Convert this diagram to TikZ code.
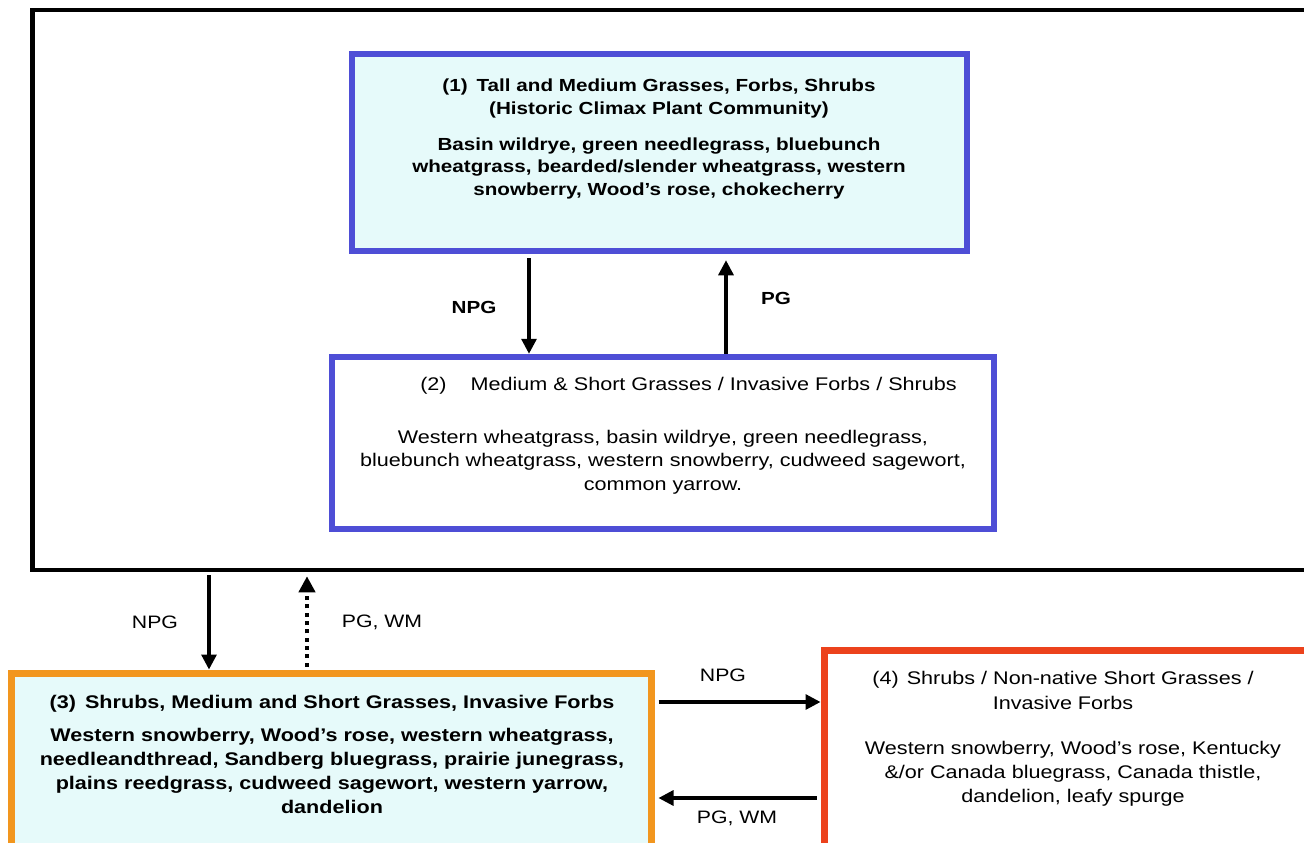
\documentclass[tikz,border=0pt]{standalone}
\usepackage{fontspec}
\setmainfont[FakeStretch=1.18]{Liberation Sans}
\usetikzlibrary{arrows.meta}
\definecolor{bbd}{RGB}{78,78,214}
\definecolor{cyanfill}{RGB}{230,250,250}
\definecolor{orbd}{RGB}{242,150,30}
\definecolor{rdbd}{RGB}{236,66,28}
\begin{document}
\begin{tikzpicture}[x=1pt,y=-1pt,
 box/.style={rectangle, inner sep=0pt},
 txt/.style={align=center, inner sep=0pt, font=\fontsize{18.3}{24}\selectfont},
 btxt/.style={align=center, inner sep=0pt, font=\fontsize{18.3}{24}\selectfont\bfseries},
 arr/.style={line width=3.2pt, -{Triangle[length=15pt,width=15pt]}},
 darr/.style={line width=4pt, dash pattern=on 4pt off 4.3pt, -{Triangle[length=16pt,width=16pt]}},
 lbl/.style={inner sep=0pt, font=\fontsize{18}{22}\selectfont},
 blbl/.style={inner sep=0pt, font=\fontsize{17.5}{22}\selectfont\bfseries}]
\useasboundingbox (0,0) rectangle (1304,843);
\clip (0,0) rectangle (1304,843);
\fill[white] (0,0) rectangle (1304,843);
% outer frame
\node[box, draw=black, line width=4.5pt, minimum width=1287pt, minimum height=560pt] (outer) at (676,290) {};
% boxes
\node[box, draw=bbd, fill=cyanfill, line width=6.5pt, minimum width=615pt, minimum height=197pt] (b1) at (659.5,152.5) {};
\node[box, draw=bbd, fill=white, line width=6.5pt, minimum width=662pt, minimum height=172pt] (b2) at (663,443) {};
\node[box, draw=orbd, fill=cyanfill, line width=7pt, minimum width=640pt, minimum height=187pt] (b3) at (331,766.5) {};
\node[box, draw=rdbd, fill=white, line width=7pt, minimum width=496pt, minimum height=210pt] (b4) at (1072,755) {};
% texts
\node[btxt, font=\fontsize{17.5}{22.8}\selectfont\bfseries] (t1) at (659,139) {(1)\hspace{9pt}Tall and Medium Grasses, Forbs, Shrubs\\(Historic Climax Plant Community)\\[13pt]Basin wildrye, green needlegrass, bluebunch\\wheatgrass, bearded/slender wheatgrass, western\\snowberry, Wood’s rose, chokecherry};
\node[txt] (t2a) at (688.5,386) {(2)\hspace{24pt}Medium \& Short Grasses / Invasive Forbs / Shrubs};
\node[txt, font=\fontsize{18.3}{23.5}\selectfont] (t2b) at (663,462) {Western wheatgrass, basin wildrye, green needlegrass,\\bluebunch wheatgrass, western snowberry, cudweed sagewort,\\common yarrow.};
\node[btxt] (t3) at (332,754.5) {(3)\hspace{9pt}Shrubs, Medium and Short Grasses, Invasive Forbs\\[9pt]Western snowberry, Wood’s rose, western wheatgrass,\\needleandthread, Sandberg bluegrass, prairie junegrass,\\plains reedgrass, cudweed sagewort, western yarrow,\\dandelion};
\node[txt, font=\fontsize{18.3}{25}\selectfont] (t4a) at (1063,690.5) {(4)\hspace{8pt}Shrubs / Non-native Short Grasses /\\Invasive Forbs};
\node[txt] (t4b) at (1073,774) {Western snowberry, Wood’s rose, Kentucky\\\&/or Canada bluegrass, Canada thistle,\\dandelion, leafy spurge};
% x/y helper coordinates
\coordinate (xa) at (529,0);
\coordinate (xb) at (726,0);
\coordinate (xc) at (209,0);
\coordinate (xd) at (307,0);
\coordinate (ya) at (0,702);
\coordinate (yb) at (0,798);
% connectors
\draw[arr, shorten <=4pt] (b1.south -| xa) -- (b2.north -| xa);
\draw[arr, shorten >=6pt] (b2.north -| xb) -- (b1.south -| xb);
\draw[arr, shorten <=3pt] (outer.south -| xc) -- (b3.north -| xc);
\draw[darr, shorten <=3pt, shorten >=4pt] (b3.north -| xd) -- (outer.south -| xd);
\draw[arr, shorten <=4pt] (b3.east |- ya) -- (b4.west |- ya);
\draw[arr, shorten <=4pt, shorten >=4pt] (b4.west |- yb) -- (b3.east |- yb);
% labels
\node[blbl] (l1) at (474,307) {NPG};
\node[blbl] (l2) at (776,298) {PG};
\node[lbl] (l3) at (155,622) {NPG};
\node[lbl] (l4) at (382,622) {PG, WM};
\node[lbl] (l5) at (723,675) {NPG};
\node[lbl] (l6) at (737,818) {PG, WM};
\end{tikzpicture}
\end{document}
